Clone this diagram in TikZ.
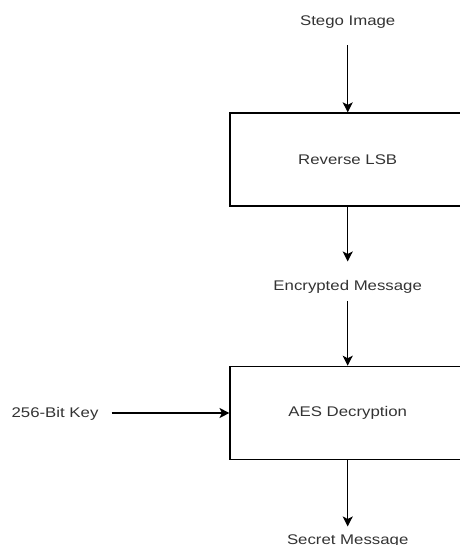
\documentclass[tikz,border=0pt]{standalone}
\usepackage{fontspec}
\setmainfont{Liberation Sans}
\usetikzlibrary{arrows.meta}
\definecolor{txtgray}{HTML}{333333}
\newcommand{\wtxt}[1]{\scalebox{1.2}[1]{#1}}
\tikzset{
  lbl/.style={inner sep=0pt, anchor=base, text height=10pt, text depth=0pt, text=txtgray, font=\fontsize{14}{16}\selectfont},
  procbox/.style={draw=black, line width=1.5pt, minimum width=235pt, minimum height=93pt, inner sep=0pt, text=txtgray, font=\fontsize{14}{16}\selectfont},
  arr/.style={draw=black, line width=1.5pt, -{Stealth[length=10pt, width=10pt, inset=2.5pt]}}
}
\begin{document}
\begin{tikzpicture}[x=1pt, y=-1pt]
\useasboundingbox (0,0) rectangle (459,545);
\node[lbl] (stego) at (347.7,25.7) {\wtxt{Stego Image}};
\node[procbox] (rlsb) at (347.7,159.6) {\wtxt{Reverse LSB}};
\node[lbl] (enc) at (347.7,290.7) {\wtxt{Encrypted Message}};
\node[procbox] (aes) at (347.7,413) {\wtxt{AES Decryption}};
\node[lbl] (key) at (55,417) {\wtxt{256-Bit Key}};
\node[lbl] (secret) at (347.7,544.5) {\wtxt{Secret Message}};
\draw[arr, shorten <=19.3pt] (stego.south) -- (rlsb.north);
\draw[arr, shorten >=19pt] (rlsb.south) -- (enc.north);
\draw[arr, shorten <=10pt] (enc.south) -- (aes.north);
\draw[arr, shorten <=13pt] (key.east |- aes.west) -- (aes.west);
\draw[arr, shorten >=7.8pt] (aes.south) -- (secret.north);
\end{tikzpicture}
\end{document}
